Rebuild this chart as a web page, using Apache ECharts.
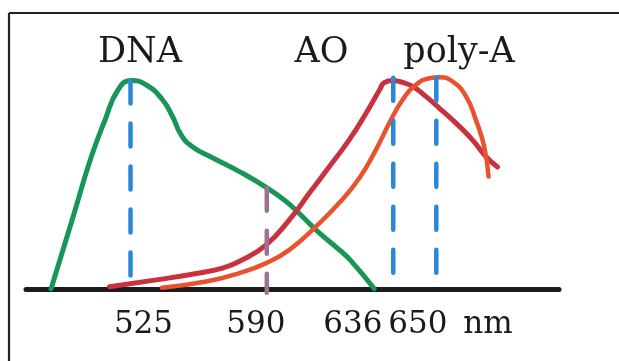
<!DOCTYPE html>
<html>
<head>
<meta charset="utf-8">
<script src="https://cdn.jsdelivr.net/npm/echarts@6/dist/echarts.min.js"></script>
<style>
html,body{margin:0;padding:0;background:#fff;}
#c{width:619px;height:361px;}
</style>
</head>
<body>
<div id="c"></div>
<script>
// Schematic emission spectra (x in nm-like units, y relative intensity)
const dnaNm  = [487, 497, 506, 513, 519, 525.3, 532.5, 540.3, 545.1, 549.2, 554.6, 564.2, 577.1, 589.9, 599.4, 607.2, 615.3, 624.9, 630.5, 641.6];
const dnaVal = [0, 33, 63, 82, 96, 100.6, 98.5, 91.3, 83.2, 74.4, 68.6, 63.3, 56.6, 49.0, 42.2, 34.9, 27.0, 18.8, 13.5, 0];

const aoNm  = [515, 537.3, 553.2, 569.0, 578.5, 589.9, 601.0, 610.6, 619.0, 629.7, 637.7, 644.2, 646.4, 650.4, 653.6, 660.0, 666.3, 672.7, 680.7, 688.6, 695.0, 700.6];
const aoVal = [1, 4.3, 6.8, 10.0, 14.0, 21.2, 33.3, 46.2, 57.5, 72.0, 84.8, 96.1, 99.6, 100.6, 100.1, 97.7, 92.9, 87.3, 80.0, 71.9, 63.9, 58.8];

const polyNm  = [540, 561.2, 577.1, 589.9, 601.0, 613.8, 624.9, 634.5, 642.4, 648.8, 655.2, 661.6, 667.9, 672.7, 679.1, 685.5, 690.2, 694.2, 696.3];
const polyVal = [0.5, 3.5, 7.6, 12.4, 18.8, 30.1, 41.5, 53.5, 67.1, 80.0, 91.3, 98.5, 101.7, 102.2, 100.1, 92.9, 81.6, 68.7, 54.2];

// peak marker lines: position, top value, bottom value
const peakPos = [525, 650.7, 671.3];
const peakTop = [100.6, 101.9, 101.9];
const peakBottom = [5.9, 6.8, 6.8];
// crossing marker (590)
const crossPos = [590.2];
const crossTop = [48.8];
const crossBottom = [-1.9];

// tick labels and where they sit on the axis
const tickLabels = ['525', '590', '636', '650', 'nm'];
const tickAt = [531.2, 585.0, 631.4, 662.5, 696.0];

const seriesNames = ['DNA', 'AO', 'poly-A'];

function pairs(xs, ys){ return xs.map((x,i)=>[x, ys[i]]); }

const chart = echarts.init(document.getElementById('c'), null, {renderer:'canvas'});

const series = [
  {name: seriesNames[0], type:'line', data: pairs(dnaNm, dnaVal), smooth:0.5, symbol:'none',
   lineStyle:{color:'#189657', width:5, cap:'round', join:'round'}, z:3},
  {name: seriesNames[1], type:'line', data: pairs(aoNm, aoVal), smooth:0.5, symbol:'none',
   lineStyle:{color:'#c8323f', width:5, cap:'round', join:'round'}, z:3},
  {name: seriesNames[2], type:'line', data: pairs(polyNm, polyVal), smooth:0.5, symbol:'none',
   lineStyle:{color:'#e8522f', width:4.5, cap:'round', join:'round'}, z:4}
];
peakPos.forEach((p,i)=>{
  series.push({type:'line', data:[[p, peakTop[i]],[p, peakBottom[i]]], symbol:'none', silent:true,
    lineStyle:{color:'#2a88d4', width:4.5, type:[23,20], cap:'round'}, z:6});
});
crossPos.forEach((p,i)=>{
  series.push({type:'line', data:[[p, crossTop[i]],[p, crossBottom[i]]], symbol:'none', silent:true,
    lineStyle:{color:'#9a7496', width:4.5, type:[23,20], cap:'round'}, z:6});
});

chart.setOption({
  animation:false,
  backgroundColor:'#ffffff',
  grid:{left:26, right:60, top:61, bottom:66},
  xAxis:{
    type:'value', min:475, max:730,
    splitLine:{show:false},
    axisTick:{show:false},
    axisLine:{show:true, onZero:true, lineStyle:{color:'#1c1c1c', width:5, cap:'round'}},
    axisLabel:{
      show:true,
      customValues: tickAt,
      formatter:(v, i)=>{ const k = tickAt.indexOf(v); return k>=0 ? tickLabels[k] : ''; },
      fontFamily:'DejaVu Serif', fontSize:31, color:'#1a1a1a', margin:14,
      showMinLabel:true, showMaxLabel:true, hideOverlap:false
    }
  },
  yAxis:{type:'value', min:-3, max:110, show:false, splitLine:{show:false}},
  series: series,
  graphic:[
    {type:'line', shape:{x1:9, y1:13, x2:619, y2:13}, style:{stroke:'#222', lineWidth:2.2}},
    {type:'line', shape:{x1:9, y1:13, x2:9, y2:361}, style:{stroke:'#222', lineWidth:2.2}},
    {type:'text', x:140, y:53, style:{text:seriesNames[0], fontFamily:'DejaVu Serif', fontSize:35, fill:'#1a1a1a', align:'center', verticalAlign:'middle'}},
    {type:'text', x:321.5, y:53, style:{text:seriesNames[1], fontFamily:'DejaVu Serif', fontSize:35, fill:'#1a1a1a', align:'center', verticalAlign:'middle'}},
    {type:'text', x:459, y:53, style:{text:seriesNames[2], fontFamily:'DejaVu Serif', fontSize:35, fill:'#1a1a1a', align:'center', verticalAlign:'middle'}}
  ]
});
</script>
</body>
</html>
